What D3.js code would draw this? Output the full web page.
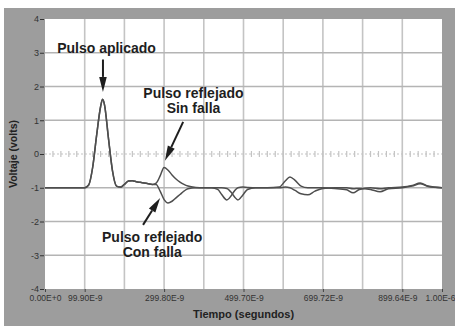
<!DOCTYPE html>
<html>
<head>
<meta charset="utf-8">
<script src="https://d3js.org/d3.v7.min.js"></script>
<style>
  body { margin: 0; background: white; }
  text { font-family: "Liberation Sans", Arial, sans-serif; }
</style>
</head>
<body>
<script>
// reflected pulse chart: time in ns, voltage in volts

const w = 455;
const h = 326;
const margin = {top: 19, right: 13, bottom: 37, left: 45};

const time = [0, 50, 100, 110, 120, 130, 140, 145, 150, 160, 170, 180, 190, 200,
              210, 220, 230, 240, 250, 260, 270, 280, 290, 300, 310, 320, 330, 340,
              350, 360, 380, 400, 420, 435, 445, 458, 470, 478, 486, 498, 510, 530,
              560, 590, 605, 617, 630, 645, 662, 680, 700, 730, 760, 776, 792, 820,
              844, 865, 900, 925, 945, 965, 1000];

const sinFalla = [-1, -1, -1, -0.92, -0.4, 0.55, 1.4, 1.62, 1.45, 0.45, -0.5, -0.95, -0.98, -0.9,
                  -0.8, -0.79, -0.82, -0.84, -0.86, -0.88, -0.9, -0.86, -0.65, -0.4, -0.48, -0.62, -0.74, -0.83,
                  -0.9, -0.95, -0.99, -1.0, -1.0, -1.05, -1.2, -1.36, -1.22, -1.08, -1.0, -0.98, -0.99, -1.0,
                  -1.0, -0.98, -0.8, -0.68, -0.78, -0.95, -1.0, -1.0, -1.0, -1.02, -1.06, -1.15, -1.05, -1.0,
                  -1.03, -1.0, -0.98, -0.93, -0.86, -0.95, -1.0];

const conFalla = [-1, -1, -1, -0.92, -0.4, 0.55, 1.4, 1.62, 1.45, 0.45, -0.5, -0.95, -0.98, -0.9,
                  -0.8, -0.79, -0.82, -0.84, -0.86, -0.88, -0.9, -0.9, -1.1, -1.35, -1.45, -1.4, -1.3, -1.2,
                  -1.1, -1.03, -1.0, -1.0, -1.0, -1.0, -1.0, -1.02, -1.15, -1.28, -1.36, -1.22, -1.05, -1.0,
                  -1.0, -1.0, -0.98, -1.0, -1.08, -1.18, -1.21, -1.1, -1.02, -1.0, -1.0, -1.03, -1.02, -1.05,
                  -1.12, -1.03, -1.0, -0.95, -0.88, -0.96, -1.0];

const yTicks = [-4, -3, -2, -1, 0, 1, 2, 3, 4];
const xTicks = [0, 100, 300, 500, 700, 900, 1000];
const xTickLabels = ["0.00E+0", "99.90E-9", "299.80E-9", "499.70E-9", "699.72E-9", "899.64E-9", "1.00E-6"];
const xGrid = [100, 200, 300, 400, 500, 600, 700, 800, 900];
const yGrid = [-3, -2, -1, 1, 2, 3];

const xScale = d3.scaleLinear()
    .domain([0, 1000])
    .range([margin.left, w - margin.right]);

const yScale = d3.scaleLinear()
    .domain([-4, 4])
    .range([h - margin.bottom, margin.top]);

const svg = d3.select("body")
  .append("svg")
    .attr("width", w)
    .attr("height", h);

// gray frame and white plot area

svg.append("rect")
    .attr("x", 4)
    .attr("y", 8)
    .attr("width", w - 4)
    .attr("height", h - 8)
    .attr("fill", "#9d9d9d");

svg.append("rect")
    .attr("x", xScale(0))
    .attr("y", yScale(4))
    .attr("width", xScale(1000) - xScale(0))
    .attr("height", yScale(-4) - yScale(4))
    .attr("fill", "white");

// grid

svg.append("g")
  .selectAll("line")
  .data(xGrid)
  .enter().append("line")
    .attr("x1", d => xScale(d))
    .attr("x2", d => xScale(d))
    .attr("y1", yScale(4))
    .attr("y2", yScale(-4))
    .attr("stroke", "#c4c4c4")
    .attr("stroke-width", 1.6);

svg.append("g")
  .selectAll("line")
  .data(yGrid)
  .enter().append("line")
    .attr("x1", xScale(0))
    .attr("x2", xScale(1000))
    .attr("y1", d => yScale(d))
    .attr("y2", d => yScale(d))
    .attr("stroke", "#b4b4b4")
    .attr("stroke-width", 1.6);

// zero line with minor ticks

svg.append("line")
    .attr("x1", xScale(0))
    .attr("x2", xScale(1000))
    .attr("y1", yScale(0))
    .attr("y2", yScale(0))
    .attr("stroke", "#c4c4c4")
    .attr("stroke-width", 1.2)
    .attr("stroke-dasharray", "2,2");

svg.append("g")
  .selectAll("line")
  .data(d3.range(20, 1000, 20))
  .enter().append("line")
    .attr("x1", d => xScale(d))
    .attr("x2", d => xScale(d))
    .attr("y1", yScale(0) - 3)
    .attr("y2", yScale(0) + 3)
    .attr("stroke", "#c4c4c4")
    .attr("stroke-width", 1.2);

// traces

const line = d3.line()
    .x((d, i) => xScale(time[i]))
    .y(d => yScale(d))
    .curve(d3.curveMonotoneX);

[conFalla, sinFalla].forEach(s => {
  svg.append("path")
      .attr("d", line(s))
      .attr("fill", "none")
      .attr("stroke", "#4e4e4e")
      .attr("stroke-width", 1.5);
});

// axes

const yAxis = d3.axisLeft(yScale)
    .tickValues(yTicks)
    .tickFormat(d => String(d))
    .tickSize(4)
    .tickPadding(1);

const gy = svg.append("g")
    .attr("transform", `translate(${margin.left - 1}, 0)`)
    .call(yAxis);
gy.select(".domain").remove();
gy.selectAll("line").attr("stroke", "#333");
gy.selectAll("text")
    .attr("fill", "#333")
    .style("font-size", "9px");

const xAxis = d3.axisBottom(xScale)
    .tickValues(xTicks)
    .tickFormat((d, i) => xTickLabels[i])
    .tickSize(3)
    .tickPadding(3);

const gx = svg.append("g")
    .attr("transform", `translate(0, ${h - margin.bottom})`)
    .call(xAxis);
gx.select(".domain").remove();
gx.selectAll("line").attr("stroke", "#444");
gx.selectAll("text")
    .attr("fill", "#333")
    .style("font-size", "8.5px");
gx.selectAll("text").filter((d, i) => i === 5).attr("dx", -5);
gx.selectAll("text").filter((d, i) => i === 6).attr("dx", -2);

// axis titles

svg.append("text")
    .attr("transform", `translate(17, ${yScale(0)}) rotate(-90)`)
    .attr("text-anchor", "middle")
    .attr("fill", "#222")
    .style("font-size", "10.5px")
    .style("font-weight", "bold")
    .text("Voltaje (volts)");

svg.append("text")
    .attr("x", xScale(500))
    .attr("y", 318)
    .attr("text-anchor", "middle")
    .attr("fill", "#222")
    .style("font-size", "11px")
    .style("font-weight", "bold")
    .text("Tiempo (segundos)");

// annotations (positions in data units)

const notes = [
  {t: 155, v: 3.0, text: "Pulso aplicado"},
  {t: 374, v: 1.66, text: "Pulso reflejado"},
  {t: 374, v: 1.21, text: "Sin falla"},
  {t: 270, v: -2.61, text: "Pulso reflejado"},
  {t: 270, v: -3.05, text: "Con falla"}
];

svg.append("g")
  .selectAll("text")
  .data(notes)
  .enter().append("text")
    .attr("x", d => xScale(d.t))
    .attr("y", d => yScale(d.v))
    .attr("text-anchor", "middle")
    .attr("fill", "#1e1e1e")
    .style("font-size", "14px")
    .style("font-weight", "bold")
    .text(d => d.text);

const arrows = [
  {t0: 146, v0: 2.8, t1: 146, v1: 1.84},
  {t0: 348, v0: 0.95, t1: 302, v1: -0.2},
  {t0: 247, v0: -2.1, t1: 290, v1: -1.3}
];

arrows.forEach(a => {
  const x0 = xScale(a.t0), y0 = yScale(a.v0);
  const x1 = xScale(a.t1), y1 = yScale(a.v1);
  const ang = Math.atan2(y1 - y0, x1 - x0);
  const len = 15, half = 3.8;
  const bx = x1 - len * Math.cos(ang), by = y1 - len * Math.sin(ang);
  svg.append("line")
      .attr("x1", x0).attr("y1", y0)
      .attr("x2", bx).attr("y2", by)
      .attr("stroke", "#1e1e1e")
      .attr("stroke-width", 2);
  const px = -Math.sin(ang) * half, py = Math.cos(ang) * half;
  svg.append("path")
      .attr("d", `M${x1},${y1}L${bx + px},${by + py}L${bx - px},${by - py}Z`)
      .attr("fill", "#1e1e1e");
});
</script>
</body>
</html>
